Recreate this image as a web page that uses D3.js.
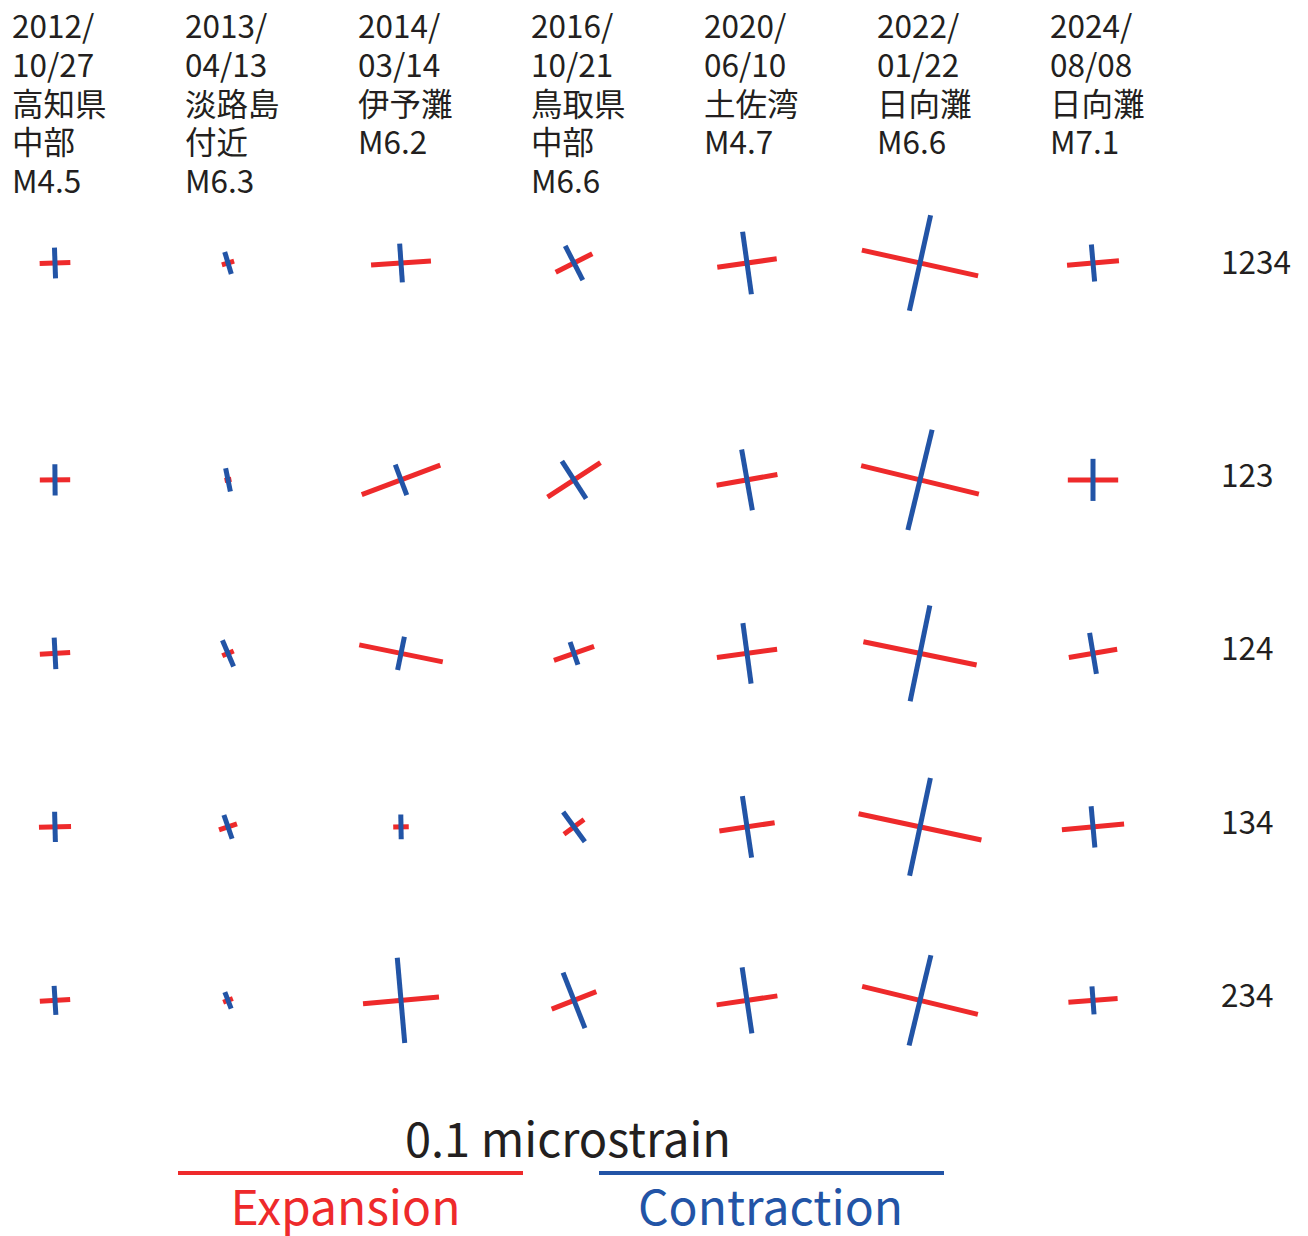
<!DOCTYPE html>
<html><head><meta charset="utf-8">
<script src="https://cdn.jsdelivr.net/npm/d3@7"></script>
<style>
html,body{margin:0;padding:0;background:#fff;}
svg text{font-family:"Noto Sans CJK JP","Noto Sans",sans-serif;}
</style></head>
<body><svg id="chart" width="1308" height="1236"></svg>
<script>
// ---- data ----
const events = ["2012-10-27","2013-04-13","2014-03-14","2016-10-21","2020-06-10","2022-01-22","2024-08-08"];
const headerLines = [
  ["2012/","10/27","高知県","中部","M4.5"],
  ["2013/","04/13","淡路島","付近","M6.3"],
  ["2014/","03/14","伊予灘","M6.2"],
  ["2016/","10/21","鳥取県","中部","M6.6"],
  ["2020/","06/10","土佐湾","M4.7"],
  ["2022/","01/22","日向灘","M6.6"],
  ["2024/","08/08","日向灘","M7.1"]
];
const combos = ["1234","123","124","134","234"];
// principal strains (microstrain)
const expansion = [
  [0.0089,0.0037,0.0174,0.0119,0.0174,0.0345,0.0151],
  [0.0088,0.0020,0.0243,0.0183,0.0179,0.0351,0.0146],
  [0.0088,0.0036,0.0247,0.0123,0.0176,0.0335,0.0142],
  [0.0093,0.0055,0.0045,0.0072,0.0162,0.0364,0.0181],
  [0.0088,0.0030,0.0221,0.0139,0.0178,0.0345,0.0143]
];
const contraction = [
  [0.0089,0.0067,0.0113,0.0112,0.0183,0.0284,0.0108],
  [0.0091,0.0069,0.0095,0.0129,0.0179,0.0299,0.0122],
  [0.0091,0.0083,0.0099,0.0070,0.0177,0.0284,0.0120],
  [0.0088,0.0073,0.0072,0.0107,0.0180,0.0290,0.0120],
  [0.0084,0.0051,0.0248,0.0173,0.0193,0.0269,0.0081]
];
// direction of expansion axis, degrees counter-clockwise from east
const azimuth = [
  [2.0,16.5,4.0,27.0,8.0,-12.5,5.0],
  [0.5,11.5,20.5,33.0,10.0,-13.6,0.0],
  [3.0,23.0,-11.5,19.0,7.7,-11.6,9.5],
  [1.5,19.0,1.0,36.0,8.5,-12.0,5.2],
  [3.4,21.0,5.0,21.5,8.4,-13.6,4.2]
];
const scaleValue = 0.1;
const scaleLabel = "0.1 microstrain";
const legendLabels = ["Expansion","Contraction"];

// ---- drawing ----
const RED = "#ee2a2b", BLUE = "#2254a6";
const svg = d3.select("#chart");
const x = d3.scalePoint().domain(events).range([55, 1093]);
const rowSlot = d3.scaleOrdinal().domain(combos).range([0,1.25,2.25,3.25,4.25]);
const ySlot = d3.scaleLinear().domain([0,1]).range([263, 436.5]);
const y = c => ySlot(rowSlot(c));
const len = d3.scaleLinear().domain([0, scaleValue]).range([0, 345]);

// headers
events.forEach((e,i)=>{
  const t = svg.append("text").attr("x", x(e)-43).attr("y", 38)
    .attr("font-size", 31.5).attr("fill", "#231f20");
  headerLines[i].forEach((ln,k)=>{
    t.append("tspan").attr("x", x(e)-43).attr("y", 38 + k*38.8).text(ln);
  });
});
// row labels
combos.forEach(c=>{
  svg.append("text").attr("x", 1221).attr("y", y(c) - (c==="1234"?0:4)).attr("dy","0.35em")
    .attr("font-size", 31.5).attr("fill","#231f20").text(c);
});

const cells = [];
combos.forEach((c,r)=>events.forEach((e,j)=>{
  cells.push({c, e, ex: expansion[r][j], co: contraction[r][j], az: azimuth[r][j]});
}));
function seg(d, L, angDeg){
  const a = angDeg*Math.PI/180, cx = x(d.e), cy = y(d.c);
  const dx = Math.cos(a)*L/2, dy = -Math.sin(a)*L/2;
  return [cx-dx, cy-dy, cx+dx, cy+dy];
}
const g = svg.append("g");
g.selectAll("line.ex").data(cells).join("line").attr("class","ex")
  .each(function(d){ const s = seg(d, len(d.ex), d.az);
    d3.select(this).attr("x1",s[0]).attr("y1",s[1]).attr("x2",s[2]).attr("y2",s[3]); })
  .attr("stroke", RED).attr("stroke-width", 5);
g.selectAll("line.co").data(cells).join("line").attr("class","co")
  .each(function(d){ const s = seg(d, len(d.co), d.az+90);
    d3.select(this).attr("x1",s[0]).attr("y1",s[1]).attr("x2",s[2]).attr("y2",s[3]); })
  .attr("stroke", BLUE).attr("stroke-width", 5);

// legend
const lx = d3.scaleLinear().domain([0,1]).range([178, 599]);
svg.append("text").attr("x", 568).attr("y", 1157).attr("text-anchor","middle")
  .attr("font-size", 47).attr("fill","#231f20").text(scaleLabel);
[RED, BLUE].forEach((col,i)=>{
  svg.append("line").attr("x1", lx(i)).attr("x2", lx(i)+len(scaleValue))
    .attr("y1", 1173).attr("y2", 1173).attr("stroke", col).attr("stroke-width", 4);
  svg.append("text").attr("x", lx(i)+len(scaleValue)/2 - (i?1:5)).attr("y", 1225)
    .attr("text-anchor","middle").attr("font-size", 48).attr("fill", col).text(legendLabels[i]);
});
</script></body></html>
